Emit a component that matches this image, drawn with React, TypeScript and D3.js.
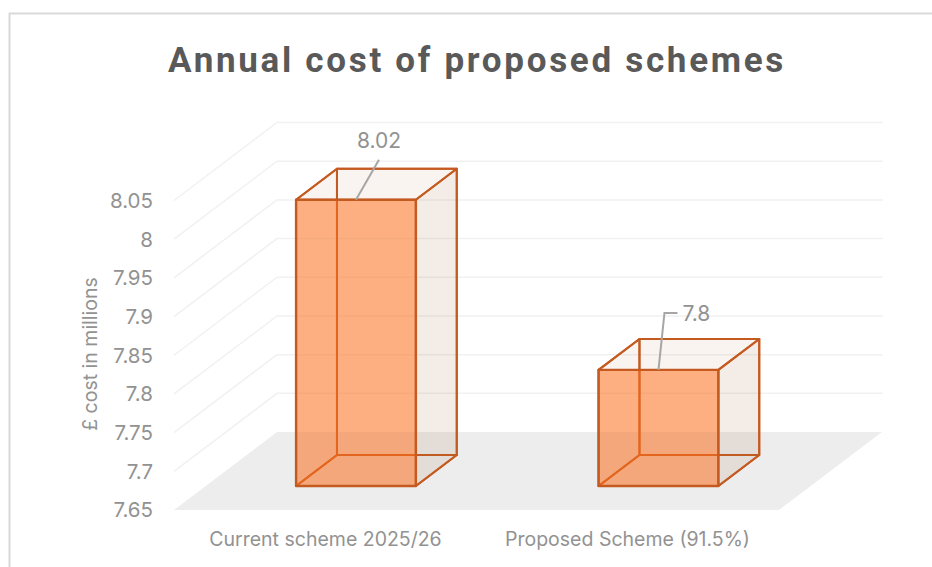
import React from "react";
import * as d3 from "d3";

const categories = ["Current scheme 2025/26", "Proposed Scheme (91.5%)"];
const values = [8.02, 7.8];
const valueLabels = ["8.02", "7.8"];
const tickValues = [7.65, 7.7, 7.75, 7.8, 7.85, 7.9, 7.95, 8, 8.05];
const title = "Annual cost of proposed schemes";
const yTitle = "£ cost in millions";

const W = 932;
const H = 567;
const DX = 103;
const DY = 78;
const Z0 = 0.308;
const Z1 = 0.705;
const STROKE = "#c55a20";
const TEXT = "#929292";
const FONT = "Inter, 'Open Sans', sans-serif";

const y = d3.scaleLinear().domain([7.65, 8.05]).range([510, 200.5]);
const x = d3.scaleBand<string>().domain(categories).range([173, 778]).paddingInner(0.604).paddingOuter(0.302);

const proj = (px: number, v: number, z: number): [number, number] => [px + DX * z, y(v) - DY * z];
const poly = (pts: [number, number][]) => d3.line()(pts)! + "Z";

function Bar({ cat, v }: { cat: string; v: number }) {
  const a = x(cat)!;
  const b = a + x.bandwidth();
  const base = 7.65;
  const c = (px: number, val: number, z: number) => proj(px, val, z);
  const back = poly([c(a, base, Z1), c(b, base, Z1), c(b, v, Z1), c(a, v, Z1)]);
  const left = poly([c(a, base, Z0), c(a, base, Z1), c(a, v, Z1), c(a, v, Z0)]);
  const bottom = poly([c(a, base, Z0), c(b, base, Z0), c(b, base, Z1), c(a, base, Z1)]);
  const right = poly([c(b, base, Z0), c(b, base, Z1), c(b, v, Z1), c(b, v, Z0)]);
  const top = poly([c(a, v, Z0), c(b, v, Z0), c(b, v, Z1), c(a, v, Z1)]);
  const front = poly([c(a, base, Z0), c(b, base, Z0), c(b, v, Z0), c(a, v, Z0)]);
  return (
    <g strokeLinejoin="round">
      <path d={back} fill="#c55a20" fillOpacity={0.01} stroke={STROKE} strokeWidth={2} />
      <path d={bottom} fill="#a8603a" fillOpacity={0.01} stroke={STROKE} strokeWidth={2} />
      <path d={left} fill="#c55a20" fillOpacity={0.01} stroke={STROKE} strokeWidth={2} />
      <path d={right} fill="#a8603a" fillOpacity={0.11} stroke={STROKE} strokeWidth={2} />
      <path d={top} fill="#a8603a" fillOpacity={0.06} stroke={STROKE} strokeWidth={2} />
      <path d={front} fill="#fb6f1e" fillOpacity={0.55} stroke={STROKE} strokeWidth={2.4} />
    </g>
  );
}

export default function App() {
  const floor = poly([proj(174, 7.65, 0), proj(779, 7.65, 0), proj(779, 7.65, 1), proj(174, 7.65, 1)]);
  const centers = categories.map((c) => x(c)! + x.bandwidth() / 2);
  const tip = (i: number) => proj(centers[i], values[i], Z0);
  const t0 = tip(0);
  const t1 = tip(1);
  return (
    <svg width={W} height={H} viewBox={`0 0 ${W} ${H}`} style={{ position: "absolute", left: 0, top: 0, background: "#fff" }}>
      <path d={`M9.5 ${H} V13.5 H${W}`} fill="none" stroke="#d9d9d9" strokeWidth={2} />
      <text x={477} y={72} textAnchor="middle" fontFamily="Roboto, sans-serif" fontWeight={700} fontSize={35} letterSpacing={2.7} fill="#595959">
        {title}
      </text>
      {tickValues.slice(1).map((t) => (
        <path key={t} d={d3.line()([proj(174, t, 0), proj(174, t, 1), proj(883 - DX, t, 1)])!} fill="none" stroke="#f1f1f1" strokeWidth={1.5} />
      ))}
      <path d={floor} fill="#ededed" />
      {categories.map((c, i) => (
        <Bar key={c} cat={c} v={values[i]} />
      ))}
      {tickValues.map((t) => (
        <text key={t} x={153} y={y(t)} dy="0.36em" textAnchor="end" fontFamily={FONT} fontSize={20.5} fill={TEXT}>
          {String(t)}
        </text>
      ))}
      {categories.map((c, i) => (
        <text key={c} x={[325.5, 627.5][i]} y={546} textAnchor="middle" fontFamily={FONT} fontSize={19.5} fill={TEXT}>
          {c}
        </text>
      ))}
      <text transform="translate(97,354) rotate(-90)" textAnchor="middle" fontFamily={FONT} fontSize={19.5} fill={TEXT}>
        {yTitle}
      </text>
      <path d={`M${t0[0]} ${t0[1]} L${t0[0] + 23} ${t0[1] - 40}`} fill="none" stroke="#a6a6a6" strokeWidth={2} />
      <path d={`M${t1[0]} ${t1[1]} L${t1[0] + 6} ${t1[1] - 57} H${t1[0] + 19}`} fill="none" stroke="#a6a6a6" strokeWidth={2} />
      <text x={t0[0] + 23} y={148} textAnchor="middle" fontFamily={FONT} fontSize={21} fill={TEXT}>
        {valueLabels[0]}
      </text>
      <text x={t1[0] + 24} y={321} fontFamily={FONT} fontSize={21} fill={TEXT}>
        {valueLabels[1]}
      </text>
    </svg>
  );
}
